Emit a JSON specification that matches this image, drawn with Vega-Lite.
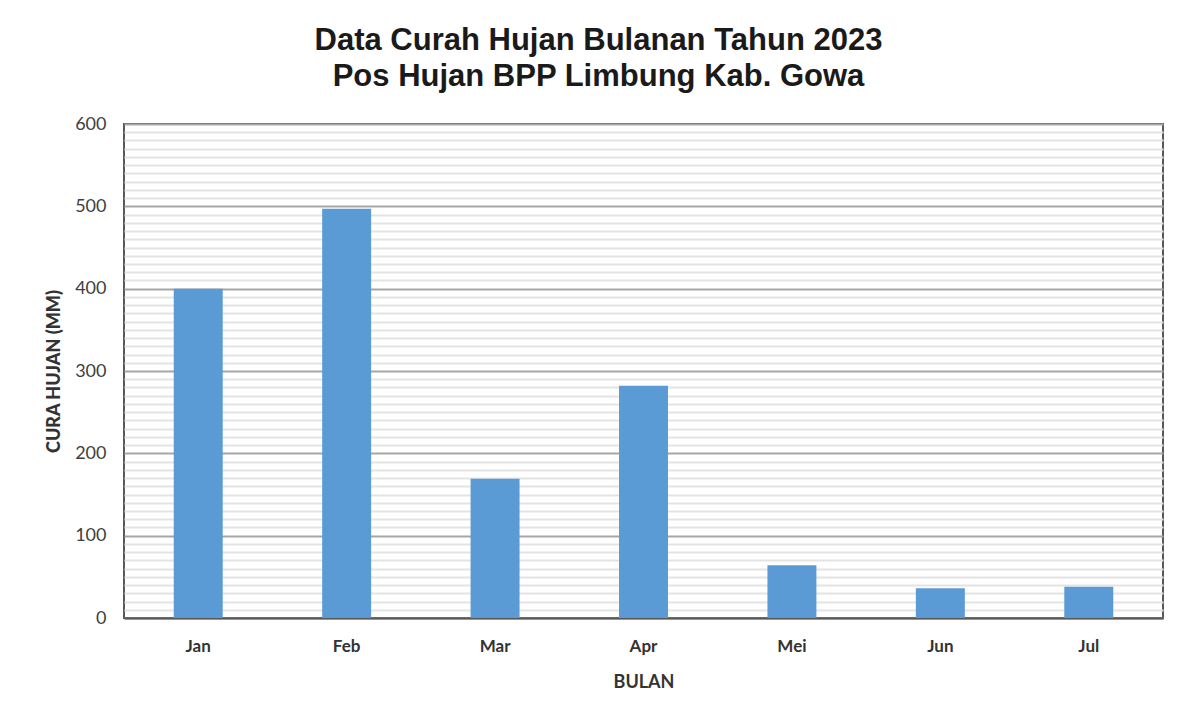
{
  "$schema": "https://vega.github.io/schema/vega-lite/v6.json",
  "width": 1039,
  "height": 494,
  "autosize": {"type": "none"},
  "padding": {"left": 124, "top": 124, "right": 29, "bottom": 104},
  "background": "white",
  "title": {
    "text": ["Data Curah Hujan Bulanan Tahun 2023", "Pos Hujan BPP Limbung Kab. Gowa"],
    "font": "Liberation Sans",
    "fontSize": 31,
    "fontWeight": "bold",
    "color": "#1a1a1a",
    "lineHeight": 36,
    "anchor": "middle",
    "dx": -45,
    "offset": 22
  },
  "data": {
    "values": [
      {"bulan": "Jan", "curah": 400},
      {"bulan": "Feb", "curah": 497},
      {"bulan": "Mar", "curah": 169},
      {"bulan": "Apr", "curah": 282},
      {"bulan": "Mei", "curah": 64},
      {"bulan": "Jun", "curah": 36},
      {"bulan": "Jul", "curah": 38}
    ]
  },
  "config": {
    "view": {"stroke": "#595959", "strokeWidth": 2},
    "axisX": {
      "title": "BULAN",
      "titleFont": "Lato",
      "titleFontSize": 18,
      "titleFontWeight": "bold",
      "titleColor": "#333333",
      "titlePadding": 19,
      "labelFont": "Lato",
      "labelFontSize": 17,
      "labelFontWeight": "bold",
      "labelColor": "#333333",
      "labelAngle": 0,
      "labelPadding": 20,
      "ticks": false,
      "domainColor": "#595959",
      "domainWidth": 2
    }
  },
  "resolve": {"axis": {"y": "independent"}},
  "layer": [
    {
      "mark": {"type": "bar", "color": "#5b9bd5", "opacity": 0},
      "encoding": {
        "x": {"field": "bulan", "type": "nominal", "sort": null,
              "scale": {"paddingInner": 0.67, "paddingOuter": 0.335},
              "axis": {"title": "BULAN"}},
        "y": {"field": "curah", "type": "quantitative",
              "scale": {"domain": [0, 600], "nice": false},
              "axis": {
                "orient": "left",
                "values": [10,20,30,40,50,60,70,80,90,110,120,130,140,150,160,170,180,190,210,220,230,240,250,260,270,280,290,310,320,330,340,350,360,370,380,390,410,420,430,440,450,460,470,480,490,510,520,530,540,550,560,570,580,590],
                "grid": true,
                "gridColor": "#e3e3e3",
                "gridWidth": 2,
                "labels": false,
                "ticks": false,
                "domain": false,
                "title": null
              }}
      }
    },
    {
      "mark": {"type": "bar", "color": "#5b9bd5"},
      "encoding": {
        "x": {"field": "bulan", "type": "nominal", "sort": null,
              "scale": {"paddingInner": 0.67, "paddingOuter": 0.335},
              "axis": {"title": "BULAN"}},
        "y": {"field": "curah", "type": "quantitative",
              "scale": {"domain": [0, 600], "nice": false},
              "axis": {
                "orient": "left",
                "values": [0, 100, 200, 300, 400, 500, 600],
                "grid": true,
                "gridColor": "#a6a6a6",
                "gridWidth": 2,
                "ticks": false,
                "domain": false,
                "labelFont": "Lato",
                "labelFontSize": 18,
                "labelColor": "#404040",
                "labelPadding": 18,
                "title": "CURA HUJAN (MM)",
                "titleFont": "Lato",
                "titleFontSize": 18,
                "titleFontWeight": 900,
                "titleColor": "#333333",
                "titlePadding": 11
              }}
      }
    }
  ]
}
